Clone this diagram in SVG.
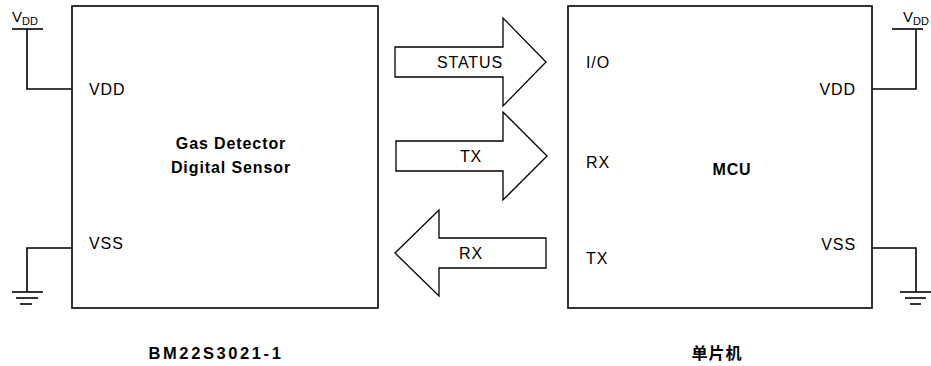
<svg xmlns="http://www.w3.org/2000/svg" width="931" height="366" viewBox="0 0 931 366">
  <style>
    .ln { fill: none; stroke: #000; stroke-width: 1.6; }
    .box { fill: #fff; stroke: #000; stroke-width: 1.6; }
    .arr { fill: #fff; stroke: #000; stroke-width: 1.3; stroke-linejoin: miter; }
    text { font-family: "Liberation Sans", Arial, sans-serif; font-size: 16px; fill: #000; letter-spacing: 0.9px; }
    .b { font-weight: bold; }
    .m { text-anchor: middle; }
    .e { text-anchor: end; }
    .v { font-size: 15px; letter-spacing: 0; }
    .sub { font-size: 11px; letter-spacing: 0; }
    .cap { font-size: 16.5px; letter-spacing: 2.6px; }
  </style>

  <!-- sensor module -->
  <g id="sensor">
    <rect class="box" x="72" y="6" width="306" height="302"/>
    <text x="89" y="95">VDD</text>
    <text x="89" y="249">VSS</text>
    <text class="b m" x="231" y="149">Gas Detector</text>
    <text class="b m" x="231" y="173">Digital Sensor</text>
  </g>

  <!-- microcontroller -->
  <g id="mcu">
    <rect class="box" x="568" y="6" width="304" height="302"/>
    <text x="586" y="68">I/O</text>
    <text x="586" y="168">RX</text>
    <text x="586" y="264">TX</text>
    <text class="e" x="856" y="95">VDD</text>
    <text class="e" x="856" y="250">VSS</text>
    <text class="b m" x="732" y="175">MCU</text>
  </g>

  <!-- supply and ground of the sensor -->
  <g id="sensor-vdd">
    <line class="ln" x1="12" y1="29" x2="43" y2="29"/>
    <text class="v" x="12" y="22">V<tspan class="sub" dy="3">DD</tspan></text>
  </g>
  <g id="sensor-gnd">
    <line class="ln" x1="12" y1="292" x2="43" y2="292"/>
    <line class="ln" x1="16" y1="298" x2="38" y2="298"/>
    <line class="ln" x1="20" y1="304" x2="32" y2="304"/>
  </g>

  <!-- supply and ground of the MCU -->
  <g id="mcu-vdd">
    <line class="ln" x1="892" y1="29" x2="923" y2="29"/>
    <text class="v" x="903" y="22">V<tspan class="sub" dy="3">DD</tspan></text>
  </g>
  <g id="mcu-gnd">
    <line class="ln" x1="900" y1="292" x2="931" y2="292"/>
    <line class="ln" x1="905" y1="298" x2="926" y2="298"/>
    <line class="ln" x1="910" y1="304" x2="921" y2="304"/>
  </g>

  <!-- signal arrows -->
  <g id="status">
    <path class="arr" d="M395,47 H503 V18 L546,62 L503,106 V77 H395 Z"/>
    <text class="m" x="470" y="68">STATUS</text>
  </g>
  <g id="tx">
    <path class="arr" d="M396,141 H503 V112 L547,156 L503,200 V171 H396 Z"/>
    <text class="m" x="471" y="162">TX</text>
  </g>
  <g id="rx">
    <path class="arr" d="M546,238 H439 V210 L395,253 L439,296 V268 H546 Z"/>
    <text class="m" x="471" y="259">RX</text>
  </g>

  <!-- wiring -->
  <g id="connectors">
    <polyline class="ln" points="27,29 27,89 72,89"/>
    <polyline class="ln" points="72,248 27,248 27,292"/>
    <polyline class="ln" points="916,29 916,89 872,89"/>
    <polyline class="ln" points="872,248 916,248 916,292"/>
  </g>

  <!-- part captions -->
  <text class="b m cap" x="216" y="359">BM22S3021-1</text>
  <text class="b m" x="717" y="359" style="font-family: 'Liberation Sans', 'Noto Sans CJK SC', sans-serif; letter-spacing: 1px">单片机</text>
</svg>
